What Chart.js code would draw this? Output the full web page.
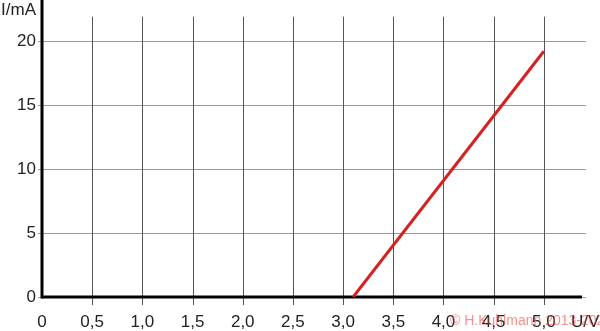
<!DOCTYPE html>
<html>
<head>
<meta charset="utf-8">
<script src="https://cdn.jsdelivr.net/npm/chart.js@4/dist/chart.umd.min.js"></script>
<style>
    html, body { margin: 0; padding: 0; background: #fff; }
    #wrap { width: 600px; height: 331px; }
</style>
</head>
<body>
<div id="wrap"><canvas id="canvas-chart" width="600" height="331"></canvas></div>
<script>
// diode characteristic: U in volts, I in mA
var uValues = [3.1, 5.0];
var iValues = [0, 19.2];
var xTicks = [0, 0.5, 1.0, 1.5, 2.0, 2.5, 3.0, 3.5, 4.0, 4.5, 5.0];
var yTicks = [0, 5, 10, 15, 20];
var xLabel = 'U/V';
var yLabel = 'I/mA';
var credit = '\u00a9 H.Kuhlmann 2013-2026';

var points = uValues.map((u, i) => ({ x: u, y: iValues[i] }));

function fmt(v) {
    if (v == 0) return '0';
    return v.toFixed(1).replace('.', ',');
}

// grid verticals, axes and extra texts
const axesPlugin = {
    id: 'axes',
    beforeDatasetsDraw(chart) {
        const ctx = chart.ctx;
        const xs = chart.scales.x;
        const ys = chart.scales.y;
        const area = chart.chartArea;
        ctx.save();
        ctx.strokeStyle = '#555';
        ctx.lineWidth = 1;
        xTicks.forEach(v => {
            if (v == 0) return;
            var px = Math.round(xs.getPixelForValue(v)) + 0.5;
            ctx.beginPath();
            ctx.moveTo(px, ys.getPixelForValue(21.9));
            ctx.lineTo(px, area.bottom + 8);
            ctx.stroke();
        })
        // axes
        ctx.strokeStyle = '#000';
        ctx.lineWidth = 3;
        ctx.beginPath();
        ctx.moveTo(xs.getPixelForValue(0), 0);
        ctx.lineTo(xs.getPixelForValue(0), ys.getPixelForValue(0) + 1.5);
        ctx.stroke();
        ctx.beginPath();
        ctx.moveTo(xs.getPixelForValue(0), ys.getPixelForValue(0));
        ctx.lineTo(xs.getPixelForValue(5.38), ys.getPixelForValue(0));
        ctx.stroke();
        ctx.restore();
    },
    afterDraw(chart) {
        const ctx = chart.ctx;
        ctx.save();
        ctx.font = '17px "Liberation Sans", Arial, sans-serif';
        ctx.fillStyle = '#222';
        ctx.textBaseline = 'middle';
        ctx.textAlign = 'right';
        ctx.fillText(yLabel, 36, 10);
        ctx.textAlign = 'left';
        ctx.fillText(xLabel, 571, 322);
        ctx.font = '14px "Liberation Sans", Arial, sans-serif';
        ctx.fillStyle = 'rgba(240, 70, 70, 0.6)';
        ctx.fillText(credit, 450, 321);
        ctx.restore();
    }
};

window.addEventListener('load', () => {
    const config = {
        type: 'scatter',
        data: {
            datasets: [
                {
                    label: 'I(U)',
                    data: points,
                    showLine: true,
                    borderColor: '#d42222',
                    backgroundColor: '#d42222',
                    borderWidth: 3,
                    pointRadius: 0,
                    tension: 0
                }
            ]
        },
        options: {
            responsive: false,
            animation: false,
            layout: { padding: { left: 0, right: 14, top: 0, bottom: 0 } },
            plugins: {
                legend: { display: false },
                tooltip: { enabled: false }
            },
            scales: {
                x: {
                    type: 'linear',
                    min: 0,
                    max: 5.42,
                    afterBuildTicks: (scale) => { scale.ticks = xTicks.map(v => ({ value: v })); },
                    afterFit: (scale) => { scale.height = 34; },
                    grid: { display: false },
                    border: { display: false },
                    ticks: {
                        autoSkip: false,
                        maxRotation: 0,
                        padding: 7,
                        color: '#222',
                        font: { family: '"Liberation Sans", Arial, sans-serif', size: 17 },
                        callback: (v) => fmt(v)
                    }
                },
                y: {
                    min: 0,
                    max: 22.25,
                    afterBuildTicks: (scale) => { scale.ticks = yTicks.map(v => ({ value: v })); },
                    afterFit: (scale) => { scale.width = 42; },
                    grid: { color: '#999', lineWidth: 1, tickLength: 4 },
                    border: { display: false },
                    ticks: {
                        padding: 2,
                        color: '#222',
                        font: { family: '"Liberation Sans", Arial, sans-serif', size: 17 },
                        callback: (v) => String(v)
                    }
                }
            }
        },
        plugins: [axesPlugin]
    };
    var ctx = document.getElementById('canvas-chart').getContext('2d');
    var chart = new Chart(ctx, config);
})
</script>
</body>
</html>
